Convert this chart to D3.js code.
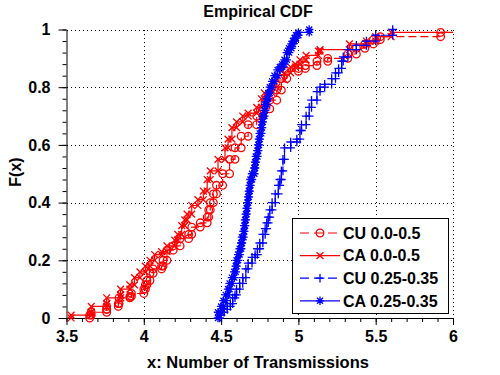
<!DOCTYPE html>
<html>
<head>
<meta charset="utf-8">
<script src="https://cdn.jsdelivr.net/npm/d3@7"></script>
<style>
  html, body { margin: 0; padding: 0; background: #fff; }
  svg { display: block; font-family: "Liberation Sans", Arial, sans-serif; }
</style>
</head>
<body>
<svg id="chart" width="500" height="375"></svg>
<script>
// ---------------- data ----------------
const seriesNames = ["CU 0.0-0.5", "CA 0.0-0.5", "CU 0.25-0.35", "CA 0.25-0.35"];

// step locations (x) and CDF level after each step (F)
const cuRedX = [3.65,3.66,3.76,3.76,3.835,3.84,3.91,3.92,4.0,4.01,4.02,4.04,4.06,4.115,4.125,4.15,4.19,4.235,4.29,4.31,4.365,4.41,4.42,4.43,4.45,4.47,4.51,4.555,4.59,4.63,4.675,4.73,4.77,4.815,4.86,4.89,4.925,5.0,5.045,5.12,5.19,5.32,5.375,5.43,5.485,5.53,5.92,6.05];
const cuRedF = [0.01,0.02,0.03,0.04,0.05,0.07,0.075,0.085,0.10,0.115,0.13,0.155,0.17,0.18,0.20,0.235,0.25,0.275,0.29,0.315,0.33,0.35,0.375,0.40,0.43,0.46,0.50,0.55,0.59,0.63,0.67,0.70,0.725,0.755,0.79,0.83,0.855,0.865,0.875,0.89,0.90,0.915,0.935,0.95,0.965,0.975,0.99,1.0];

const caRedX = [3.53,3.66,3.66,3.76,3.76,3.85,3.85,3.91,3.94,3.975,4.01,4.04,4.07,4.115,4.15,4.20,4.22,4.245,4.265,4.28,4.31,4.35,4.385,4.41,4.43,4.48,4.525,4.545,4.57,4.60,4.64,4.675,4.73,4.76,4.78,4.83,4.86,4.91,4.95,4.98,5.01,5.05,5.13,5.14,5.33,5.44,5.50,5.60,6.05];
const caRedF = [0.01,0.02,0.04,0.05,0.07,0.08,0.10,0.115,0.14,0.16,0.18,0.20,0.22,0.23,0.25,0.27,0.29,0.32,0.34,0.36,0.39,0.41,0.44,0.48,0.51,0.55,0.59,0.62,0.66,0.68,0.70,0.71,0.73,0.76,0.78,0.80,0.825,0.85,0.87,0.88,0.895,0.91,0.925,0.93,0.95,0.96,0.975,0.99,1.0];

const cuBlueX = [4.49,4.50,4.52,4.54,4.56,4.575,4.59,4.60,4.62,4.64,4.66,4.675,4.70,4.72,4.735,4.75,4.77,4.785,4.795,4.805,4.815,4.83,4.85,4.87,4.88,4.89,4.90,4.91,4.95,4.99,5.01,5.02,5.05,5.07,5.085,5.12,5.14,5.17,5.215,5.24,5.26,5.28,5.29,5.32,5.375,5.44,5.50,5.61];
const cuBlueF = [0.01,0.02,0.03,0.04,0.05,0.07,0.08,0.10,0.12,0.14,0.17,0.19,0.21,0.22,0.24,0.26,0.29,0.31,0.33,0.35,0.375,0.40,0.43,0.46,0.48,0.51,0.55,0.59,0.61,0.62,0.65,0.67,0.70,0.73,0.755,0.785,0.80,0.81,0.83,0.85,0.865,0.89,0.905,0.93,0.945,0.96,0.98,1.0];

const caBlueX = [4.48,4.50,4.515,4.53,4.545,4.555,4.57,4.585,4.595,4.60,4.61,4.62,4.63,4.635,4.645,4.65,4.655,4.66,4.665,4.67,4.675,4.68,4.685,4.69,4.70,4.715,4.72,4.725,4.735,4.74,4.745,4.75,4.76,4.765,4.77,4.78,4.785,4.795,4.805,4.815,4.83,4.845,4.865,4.88,4.895,4.91,4.925,4.94,4.955,4.965,4.975,4.985,5.0,5.07];
const caBlueF = [0.02,0.04,0.06,0.08,0.10,0.12,0.14,0.16,0.18,0.20,0.22,0.24,0.26,0.28,0.30,0.32,0.34,0.36,0.38,0.40,0.42,0.44,0.46,0.48,0.50,0.52,0.54,0.56,0.58,0.60,0.62,0.64,0.66,0.68,0.70,0.72,0.74,0.76,0.78,0.80,0.82,0.84,0.86,0.87,0.88,0.895,0.92,0.935,0.95,0.96,0.97,0.98,0.99,1.0];

const xTickValues = [3.5, 4, 4.5, 5, 5.5, 6];
const xTickLabels = ["3.5", "4", "4.5", "5", "5.5", "6"];
const yTickValues = [0, 0.2, 0.4, 0.6, 0.8, 1];
const yTickLabels = ["0", "0.2", "0.4", "0.6", "0.8", "1"];
const titleText = "Empirical CDF";
const xLabelText = "x: Number of Transmissions";
const yLabelText = "F(x)";

// ---------------- drawing ----------------
const svg = d3.select("#chart");
const L = 66.5, R = 453, T = 29.5, B = 318;
const x = d3.scaleLinear().domain([3.5, 6]).range([L, R]);
const y = d3.scaleLinear().domain([0, 1]).range([B, T]);

svg.append("rect").attr("width", 500).attr("height", 375).attr("fill", "#fff");

// grid (dotted)
const grid = svg.append("g").attr("stroke", "#000").attr("stroke-width", 1)
  .attr("stroke-dasharray", "1,3").attr("shape-rendering", "crispEdges");
xTickValues.slice(1).forEach(v => {
  grid.append("line").attr("x1", Math.round(x(v)) + 0.5).attr("x2", Math.round(x(v)) + 0.5)
    .attr("y1", T).attr("y2", B);
});
yTickValues.slice(1).forEach(v => {
  grid.append("line").attr("y1", Math.round(y(v)) + 0.5).attr("y2", Math.round(y(v)) + 0.5)
    .attr("x1", L).attr("x2", R);
});

// axes
const xMinor = d3.range(35, 61, 1).map(d => d / 10);
const yMinor = d3.range(0, 26, 1).map(d => d / 25);
const fontTick = "bold 16px 'Liberation Sans', Arial, sans-serif";

const gxMinor = svg.append("g").attr("transform", `translate(0,${B})`)
  .call(d3.axisBottom(x).tickValues(xMinor).tickSize(4).tickFormat(""));
gxMinor.select(".domain").remove();
const gyMinor = svg.append("g").attr("transform", `translate(${L},0)`)
  .call(d3.axisLeft(y).tickValues(yMinor).tickSize(4).tickFormat(""));
gyMinor.select(".domain").remove();

const gx = svg.append("g").attr("transform", `translate(0,${B})`)
  .call(d3.axisBottom(x).tickValues(xTickValues).tickSize(7).tickSizeOuter(0)
    .tickPadding(6).tickFormat((d, i) => xTickLabels[i]));
const gy = svg.append("g").attr("transform", `translate(${L},0)`)
  .call(d3.axisLeft(y).tickValues(yTickValues).tickSize(8).tickSizeOuter(0)
    .tickPadding(8).tickFormat((d, i) => yTickLabels[i]));
[gx, gy, gxMinor, gyMinor].forEach(g => {
  g.selectAll("path,line").attr("stroke", "#000").attr("stroke-width", 1);
  g.selectAll("text").style("font", fontTick).attr("fill", "#000");
});

// clip for lines
svg.append("clipPath").attr("id", "plotclip").append("rect")
  .attr("x", L).attr("y", T - 6).attr("width", R - L).attr("height", B - T + 12);

// marker shapes
function markerPath(type, s) {
  if (type === "plus") return `M${-s},0H${s}M0,${-s}V${s}`;
  if (type === "x") return `M${-s},${-s}L${s},${s}M${-s},${s}L${s},${-s}`;
  if (type === "star") {
    const d = s * 0.72;
    return `M${-s},0H${s}M0,${-s}V${s}M${-d},${-d}L${d},${d}M${-d},${d}L${d},${-d}`;
  }
  return "";
}

const series = [
  { name: seriesNames[0], xs: cuRedX, fs: cuRedF, color: "#ff0000", dash: "8,4", marker: "circle" },
  { name: seriesNames[1], xs: caRedX, fs: caRedF, color: "#ff0000", dash: null, marker: "x" },
  { name: seriesNames[2], xs: cuBlueX, fs: cuBlueF, color: "#0000ff", dash: "8,4", marker: "plus" },
  { name: seriesNames[3], xs: caBlueX, fs: caBlueF, color: "#0000ff", dash: null, marker: "star" }
];
const markerSize = { circle: 3.8, x: 3.4, plus: 4.3, star: 4.2 };
const markerStroke = 1.3;

function drawMarker(g, s, cx, cy) {
  if (s.marker === "circle") {
    g.append("circle").attr("cx", cx).attr("cy", cy).attr("r", markerSize.circle)
      .attr("fill", "none").attr("stroke", s.color).attr("stroke-width", markerStroke);
  } else {
    g.append("path").attr("transform", `translate(${cx},${cy})`)
      .attr("d", markerPath(s.marker, markerSize[s.marker]))
      .attr("fill", "none").attr("stroke", s.color).attr("stroke-width", markerStroke);
  }
}

const line = d3.line().x(d => x(d[0])).y(d => y(d[1]));

series.forEach(s => {
  const pts = [];
  let prev = 0;
  s.xs.forEach((xv, i) => {
    pts.push([xv, prev]);
    pts.push([xv, s.fs[i]]);
    prev = s.fs[i];
  });
  const g = svg.append("g");
  g.append("path").datum(pts).attr("d", line).attr("fill", "none")
    .attr("stroke", s.color).attr("stroke-width", 1.2)
    .attr("stroke-dasharray", s.dash).attr("clip-path", "url(#plotclip)");
  pts.forEach(p => {
    if (p[0] <= 6) drawMarker(g, s, x(p[0]), y(p[1]));
  });
});

// legend
const leg = svg.append("g");
leg.append("rect").attr("x", 292.5).attr("y", 218.5).attr("width", 156).attr("height", 95)
  .attr("fill", "#fff").attr("stroke", "#000").attr("stroke-width", 1);
series.forEach((s, i) => {
  const ry = 233 + i * 22.6;
  leg.append("line").attr("x1", 300).attr("x2", 340).attr("y1", ry).attr("y2", ry)
    .attr("stroke", s.color).attr("stroke-width", 1.2).attr("stroke-dasharray", s.dash ? "9,5" : null);
  drawMarker(leg, s, 320, ry);
  leg.append("text").attr("x", 343).attr("y", ry).attr("dy", "0.36em")
    .style("font", "bold 16px 'Liberation Sans', Arial, sans-serif").attr("fill", "#000")
    .text(s.name);
});

// title and labels
svg.append("text").attr("x", 258).attr("y", 17).attr("text-anchor", "middle")
  .style("font", "bold 16px 'Liberation Sans', Arial, sans-serif").text(titleText);
svg.append("text").attr("x", 258).attr("y", 368).attr("text-anchor", "middle")
  .style("font", "bold 16.5px 'Liberation Sans', Arial, sans-serif").text(xLabelText);
svg.append("text").attr("transform", "translate(21,172) rotate(-90)").attr("text-anchor", "middle")
  .style("font", "bold 16px 'Liberation Sans', Arial, sans-serif").text(yLabelText);
</script>
</body>
</html>
